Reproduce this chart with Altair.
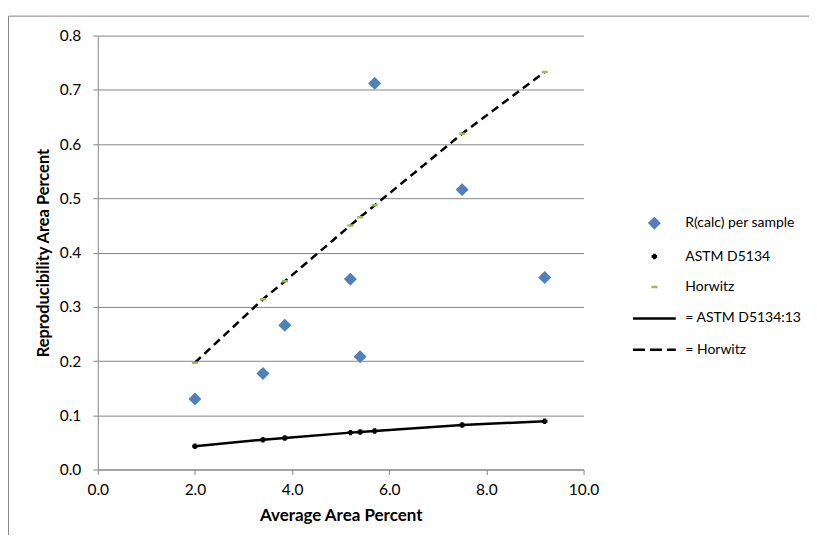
import altair as alt
import pandas as pd

# ---- data ----
avg_area = [2.0, 3.4, 3.85, 5.2, 5.4, 5.7, 7.5, 9.2]
r_calc = [0.130, 0.177, 0.266, 0.351, 0.208, 0.712, 0.516, 0.354]
astm_d5134 = [0.043, 0.055, 0.058, 0.068, 0.069, 0.071, 0.082, 0.089]
horwitz = [0.197, 0.314, 0.347, 0.450, 0.465, 0.487, 0.619, 0.733]

series_names = ["R(calc) per sample", "ASTM D5134", "Horwitz", "= ASTM D5134:13", "= Horwitz"]
series_colors = ["#4F81BD", "#000000", "#9BBB59", "#000000", "#000000"]
x_ticks = [0, 2, 4, 6, 8, 10]
y_ticks = [0.0, 0.1, 0.2, 0.3, 0.4, 0.5, 0.6, 0.7, 0.8]

points = pd.DataFrame({
    "x": avg_area * 3,
    "y": r_calc + astm_d5134 + horwitz,
    "series": [series_names[0]] * len(avg_area)
    + [series_names[1]] * len(avg_area)
    + [series_names[2]] * len(avg_area),
})
astm_line = pd.DataFrame({"x": avg_area, "y": astm_d5134})
horwitz_line = pd.DataFrame({"x": avg_area, "y": horwitz})

FONT = "Lato"
GREY = "#868686"

x_axis = alt.Axis(title="Average Area Percent", values=x_ticks, format=".1f", grid=False,
                  domainColor=GREY, tickColor=GREY, tickSize=5, labelFont=FONT, labelFontSize=15.5,
                  labelColor="black", labelPadding=8, titleFont=FONT, titleFontSize=17,
                  titleFontWeight="bold", titleColor="black", titlePadding=10, labelFlush=False)
y_axis = alt.Axis(title="Reproducibility Area Percent", values=y_ticks, format=".1f", grid=True,
                  gridColor=GREY, domainColor=GREY, tickColor=GREY, tickSize=5, labelFont=FONT,
                  labelFontSize=15.5, labelColor="black", labelPadding=12, titleFont=FONT,
                  titleFontSize=16.5, titleFontWeight="bold", titleColor="black", titlePadding=8)
x_enc = alt.X("x:Q", scale=alt.Scale(domain=[0, 10], nice=False), axis=x_axis)
y_enc = alt.Y("y:Q", scale=alt.Scale(domain=[0, 0.8], nice=False), axis=y_axis)

legend = alt.Legend(title=None, orient="none", legendX=550, legendY=181, labelFont=FONT,
                    labelFontSize=14, labelColor="black", symbolStrokeWidth=2.5, rowPadding=16.5,
                    labelOffset=23, padding=0, symbolOpacity=1)

line_path = "M-3.3,0L3.3,0"

border = alt.Chart(pd.DataFrame({"a": [0]})).mark_rect(fill=None, stroke=GREY, strokeWidth=1).encode(
    x=alt.value(-89.5), x2=alt.value(740), y=alt.value(-19.5), y2=alt.value(560)
)

astm_layer = alt.Chart(astm_line).mark_line(color="black", strokeWidth=2.5).encode(x=x_enc, y=y_enc)
horwitz_layer = alt.Chart(horwitz_line).mark_line(color="black", strokeWidth=2.5, strokeDash=[8, 5]).encode(
    x=x_enc, y=y_enc)

point_layer = alt.Chart(points).mark_point(filled=True, strokeWidth=2.5, opacity=1).encode(
    x=x_enc,
    y=y_enc,
    color=alt.Color("series:N", scale=alt.Scale(domain=series_names, range=series_colors), legend=legend),
    stroke=alt.Stroke("series:N", scale=alt.Scale(domain=series_names, range=series_colors), legend=legend),
    shape=alt.Shape("series:N", scale=alt.Scale(domain=series_names,
                                                range=["diamond", "square", "M-1,0L1,0", line_path, line_path]),
                    legend=legend),
    size=alt.Size("series:N", scale=alt.Scale(type="ordinal", domain=series_names,
                                              range=[90, 9, 36, 169, 169]), legend=legend),
    strokeDash=alt.StrokeDash("series:N", scale=alt.Scale(domain=series_names,
                                                          range=[[1, 0], [1, 0], [1, 0], [1, 0], [12, 5]]),
                              legend=legend),
)

chart = alt.layer(border, astm_layer, horwitz_layer, point_layer).properties(
    width=487, height=435,
    autosize=alt.AutoSizeParams(type="none"),
    padding={"left": 90, "top": 27, "right": 226, "bottom": 65},
).configure_view(stroke=None)

chart.save("out.html", embed_options={"renderer": "svg", "actions": False})
